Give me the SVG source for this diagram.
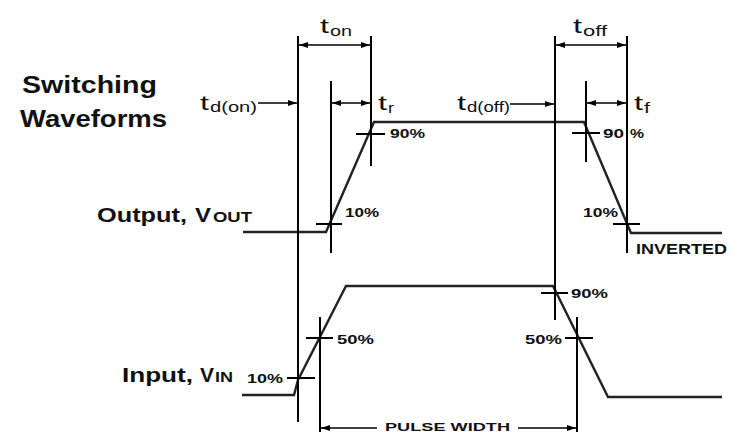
<svg xmlns="http://www.w3.org/2000/svg" width="738" height="432" viewBox="0 0 738 432">
<defs>
<marker id="ah" markerUnits="userSpaceOnUse" markerWidth="10" markerHeight="7" refX="9" refY="3" orient="auto-start-reverse">
<path d="M0,0 L9,3 L0,6 z" fill="#000"/>
</marker>
<style>
.ln{stroke:#000;stroke-width:2;fill:none}
.wv{stroke:#222;stroke-width:2.4;fill:none;stroke-linejoin:miter}
.dim{stroke:#000;stroke-width:1.6;fill:none}
.b{font-family:"Liberation Sans",Arial,sans-serif;font-weight:bold;fill:#111}
.r{font-family:"Liberation Sans",Arial,sans-serif;fill:#111}
.pct{font-family:"Liberation Sans",Arial,sans-serif;font-weight:bold;font-size:12px;fill:#111}
</style>
</defs>
<rect width="738" height="432" fill="#fff"/>

<g id="title">
<text class="b" x="22" y="93" font-size="24" textLength="135" lengthAdjust="spacingAndGlyphs">Switching</text>
<text class="b" x="20" y="127" font-size="24" textLength="147" lengthAdjust="spacingAndGlyphs">Waveforms</text>
</g>

<g id="output-label">
<text class="b" x="97" y="222" font-size="20" textLength="90" lengthAdjust="spacingAndGlyphs">Output,</text>
<text class="b" x="195" y="222" font-size="20" textLength="16" lengthAdjust="spacingAndGlyphs">V</text>
<text class="b" x="213" y="222" font-size="14" textLength="39" lengthAdjust="spacingAndGlyphs">OUT</text>
</g>
<g id="input-label">
<text class="b" x="122" y="382" font-size="20" textLength="71" lengthAdjust="spacingAndGlyphs">Input,</text>
<text class="b" x="200" y="382" font-size="20" textLength="14" lengthAdjust="spacingAndGlyphs">V</text>
<text class="b" x="215" y="382" font-size="14" textLength="18" lengthAdjust="spacingAndGlyphs">IN</text>
</g>

<g id="waveforms">
<path id="output-wave" class="wv" d="M243,232 H326 L374,122 H584 L631,233 H722"/>
<path id="input-wave" class="wv" d="M242,395 H294 L298,380 L346,286 H553 L608,397 H722"/>
</g>

<g id="verticals">
<line class="ln" x1="298" y1="36" x2="298" y2="422"/>
<line class="ln" x1="371" y1="36" x2="371" y2="166"/>
<line class="ln" x1="331" y1="81" x2="331" y2="253"/>
<line class="ln" x1="555" y1="36" x2="555" y2="320"/>
<line class="ln" x1="586" y1="81" x2="586" y2="162"/>
<line class="ln" x1="627" y1="36" x2="627" y2="253"/>
<line class="ln" x1="320" y1="317" x2="320" y2="432"/>
<line class="ln" x1="577" y1="317" x2="577" y2="432"/>
</g>

<g id="ticks">
<line class="ln" x1="316" y1="224" x2="342" y2="224"/>
<line class="ln" x1="356" y1="134" x2="385" y2="134"/>
<line class="ln" x1="572" y1="133" x2="600" y2="133"/>
<line class="ln" x1="613" y1="224" x2="640" y2="224"/>
<line class="ln" x1="287" y1="378" x2="315" y2="378"/>
<line class="ln" x1="306" y1="338" x2="333" y2="338"/>
<line class="ln" x1="541" y1="293" x2="568" y2="293"/>
<line class="ln" x1="565" y1="338" x2="593" y2="338"/>
</g>

<g id="connectors">
<line class="dim" x1="299" y1="45" x2="370" y2="45" marker-start="url(#ah)" marker-end="url(#ah)"/>
<line class="dim" x1="556" y1="45" x2="626" y2="45" marker-start="url(#ah)" marker-end="url(#ah)"/>
<line class="dim" x1="332" y1="103" x2="370" y2="103" marker-start="url(#ah)" marker-end="url(#ah)"/>
<line class="dim" x1="587" y1="103" x2="626" y2="103" marker-start="url(#ah)" marker-end="url(#ah)"/>
<line class="dim" x1="258" y1="103" x2="297" y2="103" marker-end="url(#ah)"/>
<line class="dim" x1="510" y1="104" x2="554" y2="104" marker-end="url(#ah)"/>
<line class="dim" x1="377" y1="428" x2="321" y2="428" marker-end="url(#ah)"/>
<line class="dim" x1="518" y1="428" x2="576" y2="428" marker-end="url(#ah)"/>
</g>

<g id="time-labels">
<text class="r" x="320" y="33" font-size="20" textLength="9" lengthAdjust="spacingAndGlyphs">t</text>
<text class="r" x="330" y="36" font-size="14" textLength="22" lengthAdjust="spacingAndGlyphs">on</text>
<text class="r" x="573" y="33" font-size="20" textLength="9" lengthAdjust="spacingAndGlyphs">t</text>
<text class="r" x="583" y="36" font-size="14" textLength="24" lengthAdjust="spacingAndGlyphs">off</text>
<text class="r" x="200" y="110" font-size="20" textLength="9" lengthAdjust="spacingAndGlyphs">t</text>
<text class="r" x="210" y="112" font-size="14" textLength="47" lengthAdjust="spacingAndGlyphs">d(on)</text>
<text class="r" x="457" y="110" font-size="20" textLength="9" lengthAdjust="spacingAndGlyphs">t</text>
<text class="r" x="467" y="112" font-size="14" textLength="43" lengthAdjust="spacingAndGlyphs">d(off)</text>
<text class="r" x="378" y="110" font-size="20" textLength="9" lengthAdjust="spacingAndGlyphs">t</text>
<text class="r" x="388" y="113" font-size="14" textLength="6" lengthAdjust="spacingAndGlyphs">r</text>
<text class="r" x="634" y="110" font-size="20" textLength="9" lengthAdjust="spacingAndGlyphs">t</text>
<text class="r" x="644" y="113" font-size="14" textLength="6" lengthAdjust="spacingAndGlyphs">f</text>
</g>

<g id="percent-labels">
<text class="pct" x="390" y="138" textLength="35" lengthAdjust="spacingAndGlyphs">90%</text>
<text class="pct" x="345" y="217" textLength="34" lengthAdjust="spacingAndGlyphs">10%</text>
<text class="pct" x="603" y="138" textLength="21" lengthAdjust="spacingAndGlyphs">90</text>
<text class="pct" x="630" y="138" textLength="14" lengthAdjust="spacingAndGlyphs">%</text>
<text class="pct" x="583" y="217" textLength="35" lengthAdjust="spacingAndGlyphs">10%</text>
<text class="pct" x="571" y="298" textLength="37" lengthAdjust="spacingAndGlyphs">90%</text>
<text class="pct" x="525" y="344" textLength="37" lengthAdjust="spacingAndGlyphs">50%</text>
<text class="pct" x="337" y="344" textLength="37" lengthAdjust="spacingAndGlyphs">50%</text>
<text class="pct" x="247" y="383" textLength="36" lengthAdjust="spacingAndGlyphs">10%</text>
</g>

<g id="notes">
<text class="b" x="636" y="254" font-size="14" textLength="91" lengthAdjust="spacingAndGlyphs">INVERTED</text>
<text class="b" x="385" y="431" font-size="11.5" textLength="125" lengthAdjust="spacingAndGlyphs">PULSE WIDTH</text>
</g>
</svg>
